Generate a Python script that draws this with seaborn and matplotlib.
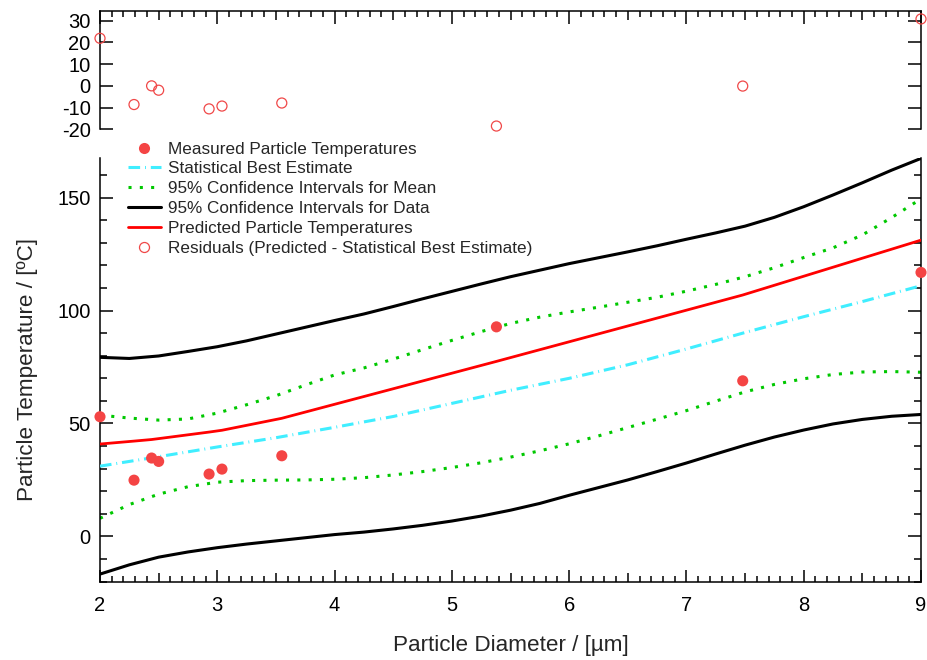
import numpy as np
import pandas as pd
import matplotlib
matplotlib.use("Agg")
import matplotlib.pyplot as plt
from matplotlib.lines import Line2D
from matplotlib.ticker import MultipleLocator, FixedLocator
import seaborn as sns

# ---------------- data ----------------
diameter = [2.0, 2.29, 2.44, 2.50, 2.93, 3.04, 3.55, 5.38, 7.48, 9.0]
measured = [53.0, 24.9, 34.7, 33.2, 27.6, 29.8, 35.7, 92.8, 68.9, 116.9]
predicted = [40.9, 42.2, 42.9, 43.3, 46.2, 47.0, 52.3, 77.5, 106.9, 131.2]
residuals = [21.9, -8.6, 0.0, -2.0, -10.6, -9.3, -7.9, -18.5, -0.1, 30.8]

est_x = [2.0, 2.5, 3.0, 3.5, 4.0, 4.5, 5.0, 5.5, 6.0, 6.5, 7.0, 7.5, 8.0, 8.5, 9.0]
best_estimate = [31.1, 35.3, 39.6, 43.7, 48.3, 53.1, 58.9, 64.7, 70.0, 76.0, 83.0, 90.3, 97.3, 104.0, 111.0]

ci_x = [2.0, 2.25, 2.5, 2.75, 3.0, 3.25, 3.5, 3.75, 4.0, 4.25, 4.5, 4.75, 5.0, 5.25, 5.5,
        5.75, 6.0, 6.25, 6.5, 6.75, 7.0, 7.25, 7.5, 7.75, 8.0, 8.25, 8.5, 8.75, 9.0]
ci_mean_upper = [53.7, 52.4, 51.5, 52.0, 54.6, 58.3, 62.3, 67.0, 71.5, 74.6, 78.5, 82.7, 86.8, 90.7, 94.3,
                 97.1, 99.4, 101.5, 103.7, 105.9, 108.6, 111.6, 115.0, 119.0, 123.5, 127.8, 133.5, 141.2, 149.5]
ci_mean_lower = [8.0, 14.1, 18.7, 22.0, 24.0, 24.7, 24.9, 25.0, 25.3, 26.0, 27.2, 28.7, 30.5, 32.6, 35.1,
                 37.9, 41.0, 44.5, 48.2, 51.9, 55.7, 59.9, 64.0, 67.3, 69.8, 71.7, 72.8, 73.0, 72.7]
ci_data_upper = [79.3, 78.8, 79.9, 81.9, 84.0, 86.6, 89.6, 92.6, 95.6, 98.5, 101.8, 105.2, 108.5, 111.8, 115.0,
                 117.9, 120.8, 123.4, 126.0, 128.7, 131.6, 134.4, 137.4, 141.3, 146.0, 151.2, 156.6, 162.2, 167.4]
ci_data_lower = [-16.7, -12.6, -9.2, -6.9, -5.0, -3.4, -2.0, -0.6, 0.8, 1.9, 3.3, 4.9, 6.8, 9.0, 11.6,
                 14.6, 18.2, 21.6, 25.0, 28.7, 32.5, 36.5, 40.4, 44.0, 47.1, 49.8, 51.8, 53.2, 54.0]

x_ticks = [2, 3, 4, 5, 6, 7, 8, 9]
y_ticks = [0, 50, 100, 150]
res_ticks = [-20, -10, 0, 10, 20, 30]

legend_labels = [
    "Measured Particle Temperatures",
    "Statistical Best Estimate",
    "95% Confidence Intervals for Mean",
    "95% Confidence Intervals for Data",
    "Predicted Particle Temperatures",
    "Residuals (Predicted - Statistical Best Estimate)",
]
x_label = "Particle Diameter / [µm]"
y_label = "Particle Temperature / [ºC]"

# ---------------- styling ----------------
sns.set_theme(style="ticks")
plt.rcParams["font.family"] = ["Liberation Sans", "DejaVu Sans"]
plt.rcParams["axes.edgecolor"] = "black"
plt.rcParams["xtick.color"] = "black"
plt.rcParams["ytick.color"] = "black"
plt.rcParams["axes.unicode_minus"] = False

C_MEAS = "#f44444"
C_RES = "#f04848"
C_CYAN = "#40eeff"
C_GREEN = "#00c800"
C_BLACK = "black"
C_RED = "#ff0000"
LS_CYAN = (0, (3.8, 1.6, 0.3, 1.6))
LS_GREEN = (0, (1, 2.7))

W, H = 927, 660
fig = plt.figure(figsize=(W / 100, H / 100), dpi=100)
L, R = 100 / W, 921 / W
ax_top = fig.add_axes([L, 1 - 129.3 / H, R - L, (129.3 - 10.7) / H])
ax = fig.add_axes([L, 1 - 582 / H, R - L, (582 - 157.5) / H])

ci = pd.DataFrame({
    "x": ci_x,
    "mu_up": ci_mean_upper,
    "mu_lo": ci_mean_lower,
    "d_up": ci_data_upper,
    "d_lo": ci_data_lower,
})
est = pd.DataFrame({"x": est_x, "best": best_estimate})
pts = pd.DataFrame({"x": diameter, "meas": measured, "pred": predicted, "res": residuals})

common = dict(ax=ax, estimator=None, sort=False, legend=False)
sns.lineplot(data=ci, x="x", y="d_up", color=C_BLACK, lw=2.2, zorder=2, **common)
sns.lineplot(data=ci, x="x", y="d_lo", color=C_BLACK, lw=2.2, zorder=2, **common)
sns.lineplot(data=ci, x="x", y="mu_up", color=C_GREEN, lw=2.2, linestyle=LS_GREEN, zorder=2, **common)
sns.lineplot(data=ci, x="x", y="mu_lo", color=C_GREEN, lw=2.2, linestyle=LS_GREEN, zorder=2, **common)
sns.lineplot(data=est, x="x", y="best", color=C_CYAN, lw=2.2, linestyle=LS_CYAN, zorder=3, **common)
sns.lineplot(data=pts, x="x", y="pred", color=C_RED, lw=2.0, zorder=3, **common)
sns.scatterplot(data=pts, x="x", y="meas", ax=ax, color=C_MEAS, s=64, edgecolor="none",
                clip_on=False, zorder=5, legend=False)

sns.scatterplot(data=pts, x="x", y="res", ax=ax_top, marker="o", s=52, facecolor="none",
                edgecolor=C_RES, linewidth=0.9, clip_on=False, zorder=5, legend=False)

# ---------------- axes: bottom ----------------
ax.set_xlim(2, 9)
ax.set_ylim(-20.2, 167.8)
ax.set_xlabel("")
ax.set_ylabel("")
ax.xaxis.set_major_locator(FixedLocator(x_ticks))
ax.xaxis.set_minor_locator(MultipleLocator(0.1))
ax.yaxis.set_major_locator(FixedLocator(y_ticks))
ax.yaxis.set_minor_locator(MultipleLocator(10))
ax.tick_params(axis="x", which="both", direction="in", bottom=True, top=False, width=1.1)
ax.tick_params(axis="x", which="major", length=8.5, pad=10, labelsize=14.5)
ax.tick_params(axis="x", which="minor", length=4.2)
ax.tick_params(axis="y", which="both", direction="in", left=True, right=True, width=1.1)
ax.tick_params(axis="y", which="major", length=9.1, pad=6.7, labelsize=14.5)
ax.tick_params(axis="y", which="minor", length=4.8)
ax.spines["top"].set_visible(False)
for s in ["left", "right", "bottom"]:
    ax.spines[s].set_linewidth(1.1)
    ax.spines[s].set_color("black")

# ---------------- axes: top (residuals) ----------------
ax_top.set_xlim(2, 9)
ax_top.set_ylim(-20, 34.6)
ax_top.set_xlabel("")
ax_top.set_ylabel("")
ax_top.xaxis.set_major_locator(FixedLocator(x_ticks))
ax_top.xaxis.set_minor_locator(MultipleLocator(0.1))
ax_top.yaxis.set_major_locator(FixedLocator(res_ticks))
ax_top.tick_params(axis="x", which="both", direction="in", bottom=False, top=True,
                   labelbottom=False, labeltop=False, width=1.1)
ax_top.tick_params(axis="x", which="major", length=9.1)
ax_top.tick_params(axis="x", which="minor", length=4.3)
ax_top.tick_params(axis="y", which="major", direction="in", left=True, right=True,
                   length=9.1, width=1.1, pad=6.7, labelsize=14.5)
ax_top.spines["bottom"].set_visible(False)
for s in ["left", "right", "top"]:
    ax_top.spines[s].set_linewidth(1.1)
    ax_top.spines[s].set_color("black")

# medium ticks at the half units
for a, lineattr, mlen in [(ax, "tick1line", 6.2), (ax_top, "tick2line", 6.7)]:
    locs = a.xaxis.get_minorticklocs()
    ticks = a.xaxis.get_minor_ticks(len(locs))
    for loc, t in zip(locs, ticks):
        if np.isclose(loc % 1, 0.5):
            getattr(t, lineattr).set_markersize(mlen)

# ---------------- labels ----------------
fig.text(510.5 / W, 1 - 651.5 / H, x_label, ha="center", va="baseline", fontsize=16.2)
fig.text(33.5 / W, 1 - 370 / H, y_label, rotation=90, rotation_mode="anchor",
         ha="center", va="baseline", fontsize=16.2)

# ---------------- legend ----------------
handles = [
    Line2D([], [], ls="none", marker="o", markersize=8, color=C_MEAS, markeredgewidth=0),
    Line2D([], [], color=C_CYAN, lw=2.2, ls=LS_CYAN),
    Line2D([], [], color=C_GREEN, lw=2.2, ls=LS_GREEN),
    Line2D([], [], color=C_BLACK, lw=2.2),
    Line2D([], [], color=C_RED, lw=2.0),
    Line2D([], [], ls="none", marker="o", markersize=7.2, markerfacecolor="none",
           markeredgecolor=C_RES, markeredgewidth=0.9),
]
fig.legend(handles, legend_labels, loc="upper left",
           bbox_to_anchor=(128 / W, 1 - 141.5 / H), bbox_transform=fig.transFigure,
           frameon=False, fontsize=12.35, handlelength=1.9, handletextpad=0.45,
           labelspacing=0.29, borderpad=0, borderaxespad=0)

fig.savefig("out.png", dpi=100)
